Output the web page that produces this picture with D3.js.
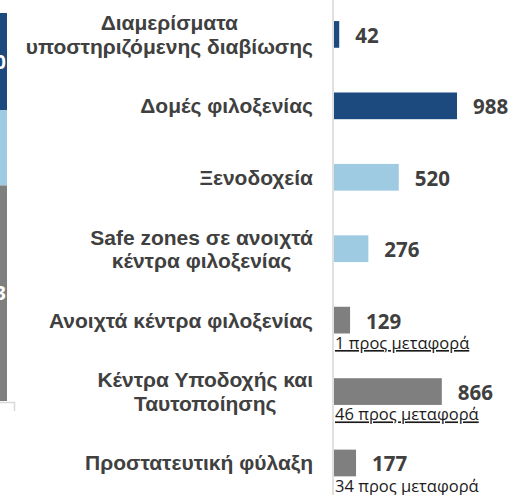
<!DOCTYPE html>
<html>
<head>
<meta charset="utf-8">
<script src="https://cdn.jsdelivr.net/npm/d3@7"></script>
<style>
  html, body { margin: 0; padding: 0; background: #ffffff; }
  svg { display: block; }
</style>
</head>
<body>
<script>
// ---- data ----
const categories = [
  "Διαμερίσματα\nυποστηριζόμενης διαβίωσης",
  "Δομές φιλοξενίας",
  "Ξενοδοχεία",
  "Safe zones σε ανοιχτά\nκέντρα φιλοξενίας",
  "Ανοιχτά κέντρα φιλοξενίας",
  "Κέντρα Υποδοχής και\nΤαυτοποίησης",
  "Προστατευτική φύλαξη"
];
const values = [42, 988, 520, 276, 129, 866, 177];
const groups = [0, 0, 1, 1, 2, 2, 2];
const transfers = [null, null, null, null, 1, 46, 34];
const transferSuffix = " προς μεταφορά";
// partially visible stacked bar on the left edge (groups totals)
const stackValues = [1030, 796, 2283];
const stackLabels = ["1030", "", "2283"];
const groupColors = ["#1c4a7e", "#9ecae2", "#7f7f7f"];

// ---- layout ----
const W = 509, H = 495;
const svg = d3.select("body").append("svg").attr("width", W).attr("height", H);

const y = d3.scaleBand().domain(d3.range(categories.length))
  .range([-1.3, 498.7]).paddingInner(0.626).paddingOuter(0.313);
const x = d3.scaleLinear().domain([0, 1000]).range([334, 458.5]);

// left stacked bar (cropped)
let cum = 0;
const stackData = stackValues.map((v, i) => { const d = {i, v, y0: cum, y1: cum + v}; cum += v; return d; });
const ys = d3.scaleLinear().domain([0, cum]).range([13, 401]);
svg.selectAll("rect.stack").data(stackData).join("rect")
  .attr("x", -20).attr("width", 27)
  .attr("y", d => ys(d.y0)).attr("height", d => ys(d.y1) - ys(d.y0))
  .attr("fill", d => groupColors[d.i]);
svg.selectAll("text.stack").data(stackData).join("text")
  .attr("x", 6).attr("y", d => (ys(d.y0) + ys(d.y1)) / 2 + 7)
  .attr("text-anchor", "end")
  .style("font-family", "'Open Sans', sans-serif").style("font-weight", "bold")
  .style("font-size", "19px").attr("fill", "#ffffff")
  .text(d => stackLabels[d.i]);
// small axis corner of left chart
svg.append("path").attr("d", "M0,402.5H14.5V411")
  .attr("fill", "none").attr("stroke", "#d9d9d9").attr("stroke-width", 1.5);

// vertical axis line
svg.append("line").attr("x1", 333).attr("x2", 333).attr("y1", 0).attr("y2", H)
  .attr("stroke", "#d9d9d9").attr("stroke-width", 1.6);

// bars
svg.selectAll("rect.bar").data(values).join("rect")
  .attr("class", "bar")
  .attr("x", x(0)).attr("y", (d, i) => y(i))
  .attr("width", d => x(d) - x(0)).attr("height", y.bandwidth())
  .attr("fill", (d, i) => groupColors[groups[i]]);

// value labels
svg.selectAll("text.val").data(values).join("text")
  .attr("x", d => x(d) + 16)
  .attr("y", (d, i) => y(i) + y.bandwidth() / 2 + 8.5)
  .style("font-family", "'Open Sans', sans-serif").style("font-weight", "bold")
  .style("font-size", "20.5px").attr("fill", "#404040")
  .text(d => d);

// transfer sub-labels
svg.selectAll("text.tr").data(transfers.map((t, i) => ({t, i})).filter(d => d.t !== null)).join("text")
  .attr("x", x(0) + 1)
  .attr("y", d => y(d.i) + y.bandwidth() + 15.5)
  .style("font-family", "'Open Sans', sans-serif")
  .style("font-size", "16.5px")
  .style("text-decoration", d => d.i < categories.length - 1 ? "underline" : "none")
  .attr("fill", "#1a1a1a")
  .text(d => d.t + transferSuffix);

// category labels
const labelRight = 313, lineH = 23.3;
categories.forEach((c, i) => {
  const lines = c.split("\n");
  const g = svg.append("g");
  const texts = lines.map((ln, j) => g.append("text")
    .attr("y", y(i) + y.bandwidth() / 2 + 7.5 + (j - (lines.length - 1) / 2) * lineH)
    .attr("text-anchor", "middle")
    .style("font-family", "'Liberation Sans', Arial, sans-serif").style("font-weight", "bold")
    .style("font-size", "21px").attr("fill", "#404040")
    .text(ln));
  const maxW = d3.max(texts, t => t.node().getComputedTextLength());
  texts.forEach(t => t.attr("x", labelRight - maxW / 2));
});
</script>
</body>
</html>
